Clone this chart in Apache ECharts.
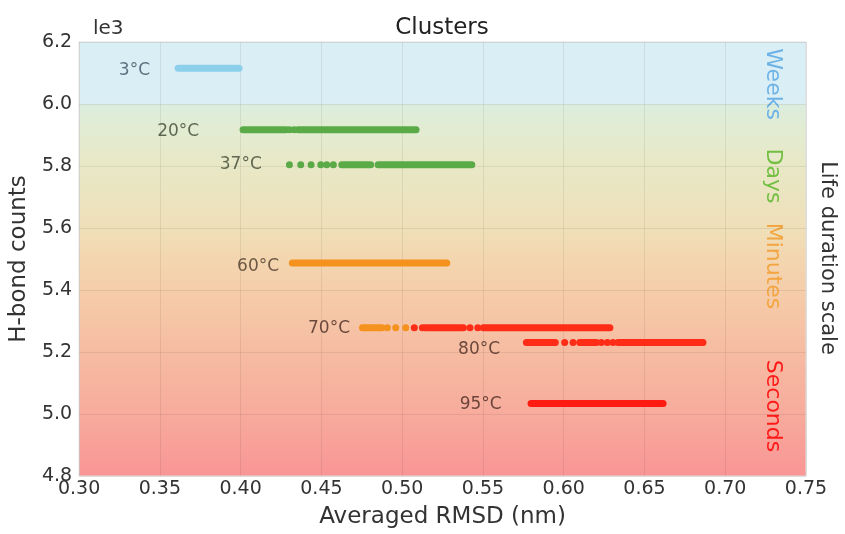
<!DOCTYPE html>
<html>
<head>
<meta charset="UTF-8">
<title>Clusters</title>
<script src="https://cdn.jsdelivr.net/npm/echarts@6/dist/echarts.min.js"></script>
<style>
  html, body { margin: 0; padding: 0; background: #fff; }
  #chart { width: 845px; height: 534px; }
</style>
</head>
<body>
<div id="chart"></div>
<script>
// temperature clusters: H-bond count (x1000) per row
const rowNames = ['3°C', '20°C', '37°C', '60°C', '70°C', '80°C', '95°C'];
const rowHbond = [6.115, 5.917, 5.804, 5.487, 5.278, 5.231, 5.034];

// where each temperature label sits (right edge of text)
const labelRmsd = [0.3439, 0.3743, 0.4131, 0.4238, 0.4677, 0.5606, 0.5616];
const labelHbond = [6.108, 5.912, 5.803, 5.474, 5.275, 5.209, 5.031];

// RMSD runs: dense stretches [from, to] and isolated dots
const seg3 = [[0.3613, 0.3990]];
const seg20 = [[0.4015, 0.4281], [0.4356, 0.5086]];
const dots20 = [0.4302, 0.4331];
const seg37 = [[0.4626, 0.4805], [0.4851, 0.5431]];
const dots37 = [0.4302, 0.4372, 0.4436, 0.4496, 0.4533, 0.4574];
const seg60 = [[0.4320, 0.5276]];
const seg70a = [[0.4754, 0.4874]];
const dots70a = [0.4908, 0.4960, 0.5022];
const seg70b = [[0.5142, 0.5379], [0.5502, 0.6286]];
const dots70b = [0.5075, 0.5125, 0.5420, 0.5468];
const seg80 = [[0.5769, 0.5948], [0.6099, 0.6202], [0.6336, 0.6862]];
const dots80 = [0.6006, 0.6058, 0.6233, 0.6270, 0.6305];
const seg95 = [[0.5798, 0.6615]];

// life duration scale on the right
const scaleNames = ['Weeks', 'Days', 'Minutes', 'Seconds'];

const FONT = 'DejaVu Sans';
const BLUE = '#8ccfea', GREEN = '#5aaa48', ORANGE = '#f5921e', RED = '#ff2d17', RED2 = '#ff1a12';
const labelColors = ['#3d5360', '#3d4632', '#3d4632', '#4a3a28', '#4a2a22', '#4a2a22', '#4a2a22'];
const scaleColors = ['#6db3e6', '#72bf44', '#f2a540', '#ff1a1a'];
const scaleY = [84, 176, 266, 406];

function segSeries(segs, y, color) {
  return segs.map(s => ({
    type: 'line',
    data: [[s[0], y], [s[1], y]],
    symbol: 'none',
    silent: true,
    z: 3,
    lineStyle: { width: 7, color: color, cap: 'round', opacity: 1 }
  }));
}

function dotSeries(xs, y, color) {
  return {
    type: 'scatter',
    data: xs.map(x => [x, y]),
    symbolSize: 7,
    z: 4,
    itemStyle: { color: color, opacity: 1 }
  };
}

const series = [].concat(
  segSeries(seg3, rowHbond[0], BLUE),
  segSeries(seg20, rowHbond[1], GREEN), [dotSeries(dots20, rowHbond[1], GREEN)],
  segSeries(seg37, rowHbond[2], GREEN), [dotSeries(dots37, rowHbond[2], GREEN)],
  segSeries(seg60, rowHbond[3], ORANGE),
  segSeries(seg70a, rowHbond[4], ORANGE), [dotSeries(dots70a, rowHbond[4], ORANGE)],
  segSeries(seg70b, rowHbond[4], RED), [dotSeries(dots70b, rowHbond[4], RED)],
  segSeries(seg80, rowHbond[5], RED), [dotSeries(dots80, rowHbond[5], RED)],
  segSeries(seg95, rowHbond[6], RED2)
);

series.push({
  type: 'scatter',
  symbolSize: 0,
  silent: true,
  data: rowNames.map((n, i) => ({
    name: n,
    value: [labelRmsd[i], labelHbond[i]],
    label: { color: labelColors[i] }
  })),
  label: {
    show: true,
    position: 'left',
    distance: 0,
    formatter: '{b}',
    fontFamily: FONT,
    fontSize: 17
  }
});

const graphics = scaleNames.map((n, i) => ({
  type: 'text',
  x: 773,
  y: scaleY[i],
  rotation: -Math.PI / 2,
  style: { text: n, fill: scaleColors[i], font: '22px "DejaVu Sans"', align: 'center', verticalAlign: 'middle' }
}));
graphics.push({
  type: 'text', x: 827, y: 258, rotation: -Math.PI / 2,
  style: { text: 'Life duration scale', fill: '#333', font: '21px "DejaVu Sans"', align: 'center', verticalAlign: 'middle' }
});
graphics.push({
  type: 'text', x: 93, y: 29,
  style: { text: 'le3', fill: '#333', font: '20px "DejaVu Sans"', align: 'left', verticalAlign: 'middle' }
});
graphics.push({
  type: 'text', x: 442, y: 28,
  style: { text: 'Clusters', fill: '#222', font: '23px "DejaVu Sans"', align: 'center', verticalAlign: 'middle' }
});

const chart = echarts.init(document.getElementById('chart'));
chart.setOption({
  animation: false,
  grid: {
    left: 79, right: 39, top: 42, bottom: 56,
    show: true,
    borderColor: '#ddd',
    borderWidth: 1,
    backgroundColor: new echarts.graphic.LinearGradient(0, 0, 0, 1, [
      { offset: 0, color: '#daeef5' },
      { offset: 0.142, color: '#daeef5' },
      { offset: 0.145, color: '#dcedde' },
      { offset: 0.2, color: '#e2ecd2' },
      { offset: 0.285, color: '#e8e8c6' },
      { offset: 0.43, color: '#efdfb8' },
      { offset: 0.5, color: '#f3d6b0' },
      { offset: 0.57, color: '#f5cdaa' },
      { offset: 0.71, color: '#f6bca2' },
      { offset: 0.857, color: '#f7ab9c' },
      { offset: 1, color: '#f99595' }
    ])
  },
  xAxis: {
    type: 'value',
    min: 0.3, max: 0.75, interval: 0.05,
    name: 'Averaged RMSD (nm)',
    nameLocation: 'middle',
    nameGap: 30,
    nameTextStyle: { fontFamily: FONT, fontSize: 23, color: '#333' },
    axisLine: { show: false },
    axisTick: { show: false },
    axisLabel: { fontFamily: FONT, fontSize: 19, color: '#333', margin: 4, formatter: v => v.toFixed(2) },
    splitLine: { lineStyle: { color: 'rgba(0,0,0,0.07)' } }
  },
  yAxis: {
    type: 'value',
    min: 4.8, max: 6.2, interval: 0.2,
    name: 'H-bond counts',
    nameLocation: 'middle',
    nameGap: 45,
    nameTextStyle: { fontFamily: FONT, fontSize: 23, color: '#333' },
    axisLine: { show: false },
    axisTick: { show: false },
    axisLabel: { fontFamily: FONT, fontSize: 19, color: '#333', margin: 7, formatter: v => v.toFixed(1) },
    splitLine: { lineStyle: { color: 'rgba(0,0,0,0.07)' } }
  },
  graphic: graphics,
  series: series
});
</script>
</body>
</html>
